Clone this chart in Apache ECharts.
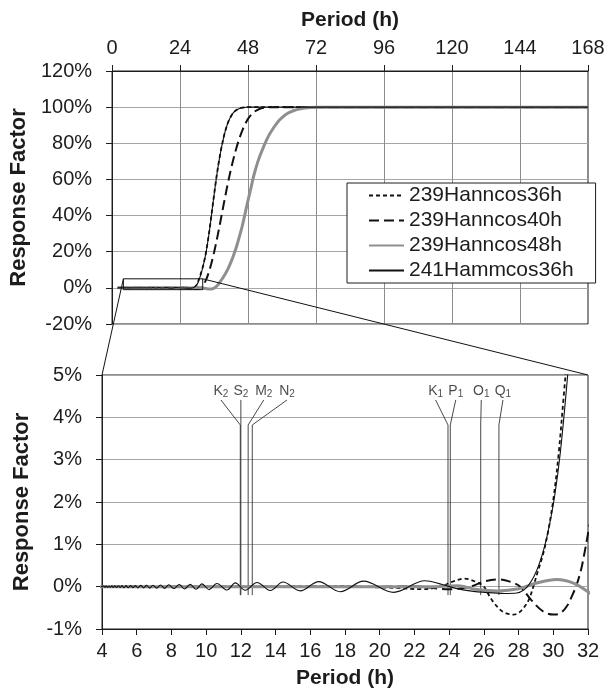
<!DOCTYPE html>
<html>
<head>
<meta charset="utf-8">
<script src="https://cdn.jsdelivr.net/npm/echarts@6/dist/echarts.min.js"></script>
<style>
  html, body { margin: 0; padding: 0; background: #fff; }
  #chart { width: 613px; height: 697px; }
</style>
</head>
<body>
<div id="chart"></div>
<script>
// Response factor (%) of the low-pass filters against period (hours)
const hann36Period = [2, 4, 8, 12, 16, 18, 19.5, 21, 22.4, 23.5, 24.2, 24.9, 25.5, 26.0, 26.4, 26.95, 27.3, 27.7, 28.0, 28.3,
  28.6, 28.85, 29.1, 29.4, 29.7, 30.0, 30.3, 30.6, 30.9, 31.2, 31.6, 32, 32.5, 33, 33.5, 34, 34.5, 35, 35.5, 36,
  36.5, 37, 37.5, 38, 38.5, 39, 39.5, 40, 41, 42, 43, 44, 45, 46, 47, 48, 60, 168];
const hann36Value = [0, 0, 0, 0, 0.005, 0.01, -0.01, -0.03, -0.06, 0.0, 0.12, 0.19, 0.12, 0.0, -0.28, -0.55, -0.63, -0.66, -0.62, -0.5,
  -0.3, 0.0, 0.35, 0.75, 1.3, 2.05, 3.1, 4.5, 5.9, 7.3, 9.3, 11.4, 14.6, 18.3, 22.8, 27.8, 33.3, 39.3, 45.4, 51.4,
  57.3, 62.8, 67.9, 72.5, 76.8, 80.5, 84, 87, 91.8, 95, 97.2, 98.5, 99.3, 99.7, 99.9, 100, 100, 100];

const hann40Period = [2, 8, 16, 20, 22, 24, 25.2, 26.0, 26.85, 27.5, 28.1, 28.7, 29.4, 30.0, 30.4, 30.8, 31.1, 31.35, 31.6, 31.8,
  32.0, 32.5, 33, 33.5, 34, 34.5, 35, 35.5, 36, 36.5, 37, 37.5, 38, 38.5, 39, 39.5, 40, 40.5, 41, 41.5,
  42, 43, 44, 45, 46, 47, 48, 49, 50, 52, 54, 56, 168];
const hann40Value = [0, 0, 0, 0, 0.01, -0.06, 0.0, 0.12, 0.17, 0.12, 0.0, -0.3, -0.58, -0.66, -0.63, -0.45, -0.2, 0.05, 0.4, 0.8,
  1.25, 2.4, 3.9, 5.7, 7.9, 10.4, 13.2, 16.3, 19.6, 23.1, 26.8, 30.7, 34.7, 38.8, 42.9, 47, 51, 55, 58.8, 62.4,
  65.9, 72.3, 78, 83, 87.2, 90.7, 93.5, 95.6, 97.2, 99, 99.7, 100, 100];

const hann48Period = [2, 8, 16, 20, 23, 24.5, 25.5, 26.8, 28, 29, 30.2, 31.2, 32, 33, 34, 34.7, 35.4, 36, 36.5, 37,
  37.5, 38, 39, 40, 41, 42, 43, 44, 45, 46, 46.8, 47.5, 48.3, 49, 49.7, 50.5, 51.5, 52.5, 54, 55.5,
  57, 58.5, 60, 62, 64, 66, 68, 70, 73, 168];
const hann48Value = [0, 0, 0, 0, 0, 0.02, -0.06, -0.1, -0.05, 0.08, 0.17, 0.08, -0.12, -0.4, -0.6, -0.65, -0.55, -0.2, 0.3, 1.0,
  1.9, 3.0, 5.3, 7.8, 10.8, 14.4, 18.5, 23.2, 28.6, 34.5, 40, 45, 50.5, 55, 60, 64.8, 70, 74.3, 80, 84.8,
  88.5, 91.8, 94.2, 96.6, 98, 98.9, 99.5, 99.85, 100, 100];

const hamm36Period = [2, 3, 4.0, 4.10, 4.17, 4.24, 4.32, 4.40, 4.48, 4.57, 4.65, 4.74, 4.84, 4.95, 5.05, 5.15, 5.26, 5.38, 5.51, 5.65,
  5.78, 5.92, 6.07, 6.23, 6.4, 6.57, 6.75, 6.94, 7.15, 7.37, 7.6, 7.85, 8.13, 8.45, 8.75, 9.08, 9.42, 9.76, 10.17, 10.62,
  11.2, 11.68, 12.25, 12.93, 13.69, 14.43, 15.42, 16.48, 17.73, 19.07, 20.8, 22.6, 23.6, 24.4, 25.2, 26.2, 27.2, 27.9, 28.3, 28.6,
  28.9, 29.2, 29.5, 29.8, 30.1, 30.4, 30.7, 31.0, 31.3, 31.6, 32, 32.5, 33, 33.5, 34, 34.5, 35, 35.5, 36, 36.5,
  37, 37.5, 38, 38.5, 39, 39.5, 40, 41, 42, 43, 44, 45, 46, 47, 48, 60, 168];
const hamm36Value = [0, 0, 0, 0.015, -0.015, 0.015, -0.015, 0.015, -0.015, 0.02, -0.02, 0.02, -0.02, 0.02, -0.02, 0.025, -0.025, 0.025, -0.025, 0.025,
  -0.025, 0.025, -0.03, 0.03, -0.03, 0.03, -0.035, 0.035, -0.035, 0.04, -0.04, 0.045, -0.045, 0.05, -0.055, 0.055, -0.06, 0.065, -0.07, 0.075,
  -0.08, 0.09, -0.085, 0.1, -0.09, 0.11, -0.1, 0.12, -0.12, 0.13, -0.135, 0.14, 0.05, -0.04, -0.1, -0.14, -0.16, -0.15, -0.08, 0.05,
  0.25, 0.55, 0.95, 1.5, 2.2, 3.15, 4.4, 5.8, 7.2, 8.8, 11.2, 14.4, 18.1, 22.6, 27.6, 33.1, 39.1, 45.2, 51.2, 57.1,
  62.7, 67.8, 72.4, 76.7, 80.4, 83.9, 87, 91.8, 95, 97.2, 98.5, 99.3, 99.7, 99.9, 100, 100, 100];

// Tidal constituents marked on the detail panel
const constituentNames = ['K2', 'S2', 'M2', 'N2', 'K1', 'P1', 'O1', 'Q1'];
const constituentPeriods = [11.967, 12.0, 12.421, 12.658, 23.934, 24.066, 25.819, 26.868];

// Axis ranges and ticks
const overviewPeriodTicks = { min: 0, max: 168, interval: 24 };
const overviewResponseTicks = { min: -20, max: 120, interval: 20 };
const detailPeriodTicks = { min: 4, max: 32, interval: 2 };
const detailResponseTicks = { min: -1, max: 5, interval: 1 };

// Layout of the constituent labels (label anchor period, leader levels)
const labelAnchorPeriods = [10.85, 12.0, 13.32, 14.66, 23.22, 24.38, 25.85, 27.1];
const labelLevel = 4.62, leaderTop = 4.41, leaderBend = 3.82, markerBottom = -0.2;

const FONT = '"Liberation Sans", Arial, Helvetica, sans-serif';
const INK = '#1c1c1c';

const pairs = (xs, ys) => xs.map((x, i) => [x, ys[i]]);

const curves = [
  { name: '239Hanncos36h', x: hann36Period, y: hann36Value, color: '#111', width: 1.8, type: [4, 3] },
  { name: '239Hanncos40h', x: hann40Period, y: hann40Value, color: '#111', width: 2, type: [10, 5] },
  { name: '239Hanncos48h', x: hann48Period, y: hann48Value, color: '#8f8f8f', width: 3, type: 'solid' },
  { name: '241Hammcos36h', x: hamm36Period, y: hamm36Value, color: '#111', width: 1.1, type: 'solid' }
];

const chart = echarts.init(document.getElementById('chart'), null, { renderer: 'canvas' });

function valueAxisBase(extra) {
  return Object.assign({
    type: 'value',
    axisLine: { show: true, onZero: false, lineStyle: { color: INK, width: 1 } },
    axisTick: { show: true, inside: false, length: 6, lineStyle: { color: INK, width: 1 } },
    axisLabel: { color: INK, fontSize: 20, fontFamily: FONT, showMinLabel: true, showMaxLabel: true },
    nameTextStyle: { color: INK, fontSize: 21, fontWeight: 'bold', fontFamily: FONT },
    nameLocation: 'middle'
  }, extra);
}

const yNameStyle = { color: INK, fontSize: 22, fontWeight: 'bold', fontFamily: FONT };

const series = [];

// constituent markers: leader line bending into a vertical marker
constituentPeriods.forEach((p, i) => {
  series.push({
    type: 'line', xAxisIndex: 1, yAxisIndex: 1, silent: true, symbol: 'none', animation: false,
    data: [[labelAnchorPeriods[i], leaderTop], [p, leaderBend], [p, markerBottom]],
    lineStyle: { color: '#333', width: 0.9 }, z: 1
  });
});
series.push({
  type: 'scatter', xAxisIndex: 1, yAxisIndex: 1, silent: true, symbolSize: 0, animation: false,
  data: constituentNames.map((n, i) => ({ value: [labelAnchorPeriods[i], labelLevel], name: n })),
  label: {
    show: true, position: 'inside', color: INK, fontFamily: FONT,
    formatter: (d) => '{m|' + d.name.charAt(0) + '}{s|' + d.name.slice(1) + '}',
    rich: {
      m: { fontSize: 14, fontFamily: FONT, color: INK, lineHeight: 16 },
      s: { fontSize: 10, fontFamily: FONT, color: INK, verticalAlign: 'bottom', lineHeight: 12 }
    }
  }
});

// response curves in both panels
[0, 1].forEach(g => {
  curves.forEach(c => {
    series.push({
      name: c.name, type: 'line', xAxisIndex: g, yAxisIndex: g,
      data: pairs(c.x, c.y), symbol: 'none', showSymbol: false, smooth: 0.35,
      clip: true, animation: false, z: 3,
      itemStyle: { color: c.color },
      lineStyle: { color: c.color, width: c.width, type: c.type }
    });
  });
});

// outline of the detail window inside the overview panel
series.push({
  type: 'line', xAxisIndex: 0, yAxisIndex: 0, silent: true, symbol: 'none', animation: false, z: 4,
  data: [
    [detailPeriodTicks.min, detailResponseTicks.min], [detailPeriodTicks.min, detailResponseTicks.max],
    [detailPeriodTicks.max, detailResponseTicks.max], [detailPeriodTicks.max, detailResponseTicks.min],
    [detailPeriodTicks.min, detailResponseTicks.min]
  ],
  lineStyle: { color: '#111', width: 1 }
});

chart.setOption({
  animation: false,
  backgroundColor: '#fff',
  textStyle: { fontFamily: FONT },
  grid: [
    { left: 102, top: 71, width: 486, height: 253, show: true, borderColor: INK, borderWidth: 1, backgroundColor: 'transparent' },
    { left: 102, top: 375, width: 486, height: 254, show: true, borderColor: INK, borderWidth: 1, backgroundColor: 'transparent' }
  ],
  xAxis: [
    valueAxisBase({
      gridIndex: 0, position: 'top', min: overviewPeriodTicks.min, max: overviewPeriodTicks.max,
      interval: overviewPeriodTicks.interval, name: 'Period (h)', nameGap: 40,
      axisLabel: { color: INK, fontSize: 20, fontFamily: FONT, margin: 13 },
      splitLine: { show: true, lineStyle: { color: '#8c8c8c', width: 1 } }
    }),
    valueAxisBase({
      gridIndex: 1, position: 'bottom', min: detailPeriodTicks.min, max: detailPeriodTicks.max,
      interval: detailPeriodTicks.interval, name: 'Period (h)', nameGap: 39,
      axisLabel: { color: INK, fontSize: 20, fontFamily: FONT, margin: 12 },
      splitLine: { show: false }
    })
  ],
  yAxis: [
    valueAxisBase({
      gridIndex: 0, min: overviewResponseTicks.min, max: overviewResponseTicks.max,
      interval: overviewResponseTicks.interval, name: 'Response Factor', nameGap: 69,
      nameTextStyle: yNameStyle,
      axisLabel: { color: INK, fontSize: 20, fontFamily: FONT, margin: 20, formatter: '{value}%' },
      splitLine: { show: true, lineStyle: { color: '#a6a6a6', width: 1 } }
    }),
    valueAxisBase({
      gridIndex: 1, min: detailResponseTicks.min, max: detailResponseTicks.max,
      interval: detailResponseTicks.interval, name: 'Response Factor', nameGap: 69,
      nameTextStyle: yNameStyle,
      axisLabel: { color: INK, fontSize: 20, fontFamily: FONT, margin: 20, formatter: '{value}%' },
      splitLine: { show: true, lineStyle: { color: '#a6a6a6', width: 1 } }
    })
  ],
  legend: {
    data: curves.map(c => c.name),
    orient: 'vertical', left: 347, top: 183,
    itemWidth: 35, itemHeight: 21, itemGap: 4,
    padding: [2, 22, 2, 21],
    backgroundColor: '#fff', borderColor: INK, borderWidth: 1, borderRadius: 0,
    selectedMode: false,
    itemStyle: { color: 'transparent', borderColor: 'transparent', borderWidth: 0, opacity: 0 },
    textStyle: { fontSize: 21, color: INK, fontFamily: FONT }
  },
  series: series
});

// connector lines from the detail window to the detail panel corners
const winTL = chart.convertToPixel({ gridIndex: 0 }, [detailPeriodTicks.min, detailResponseTicks.max]);
const winTR = chart.convertToPixel({ gridIndex: 0 }, [detailPeriodTicks.max, detailResponseTicks.max]);
const panTL = chart.convertToPixel({ gridIndex: 1 }, [detailPeriodTicks.min, detailResponseTicks.max]);
const panTR = chart.convertToPixel({ gridIndex: 1 }, [detailPeriodTicks.max, detailResponseTicks.max]);
chart.setOption({
  graphic: [
    { type: 'line', z: 10, silent: true, shape: { x1: winTL[0], y1: winTL[1], x2: panTL[0], y2: panTL[1] }, style: { stroke: '#111', lineWidth: 1 } },
    { type: 'line', z: 10, silent: true, shape: { x1: winTR[0], y1: winTR[1], x2: panTR[0], y2: panTR[1] }, style: { stroke: '#111', lineWidth: 1 } }
  ]
});
</script>
</body>
</html>
